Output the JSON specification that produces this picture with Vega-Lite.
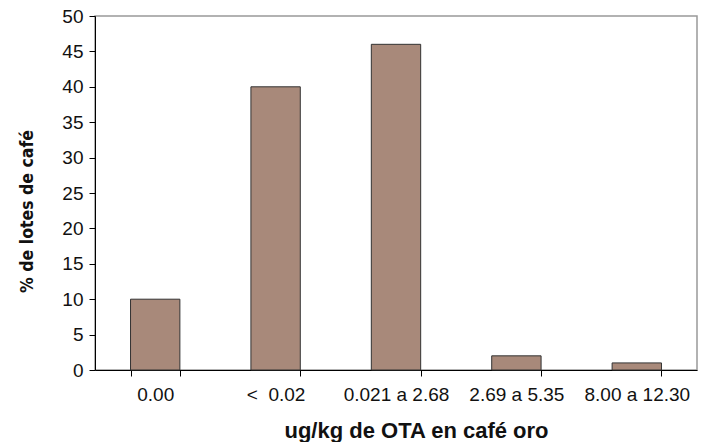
{
  "$schema": "https://vega.github.io/schema/vega-lite/v6.json",
  "width": 602,
  "height": 354,
  "autosize": {"type": "none"},
  "padding": {"left": 95, "top": 16, "right": 4, "bottom": 72},
  "background": "white",
  "config": {
    "view": {"stroke": "#999999", "strokeWidth": 1.5},
    "font": "Liberation Sans"
  },
  "data": {
    "values": [
      {"rango": "0.00", "pct": 10},
      {"rango": "< \u00a00.02", "pct": 40},
      {"rango": "0.021 a 2.68", "pct": 46},
      {"rango": "2.69 a 5.35", "pct": 2},
      {"rango": "8.00 a 12.30", "pct": 1}
    ]
  },
  "mark": {"type": "bar", "fill": "#a8897a", "stroke": "#333333", "strokeWidth": 1},
  "encoding": {
    "x": {
      "field": "rango",
      "type": "nominal",
      "sort": null,
      "scale": {"paddingInner": 0.59, "paddingOuter": 0.295},
      "axis": {
        "title": "ug/kg de OTA en café oro",
        "titleFont": "Liberation Sans",
        "titleFontSize": 22,
        "titleFontWeight": "bold",
        "titleColor": "#111111",
        "titleX": 321,
        "titleY": 67,
        "titleBaseline": "alphabetic",
        "labelAngle": 0,
        "labelFontSize": 19,
        "labelColor": "#111111",
        "labelDx": 5,
        "labelPadding": 9,
        "tickBand": "extent",
        "tickSize": 6,
        "tickColor": "#000000",
        "domainColor": "#000000",
        "labelFont": "Liberation Sans"
      }
    },
    "y": {
      "field": "pct",
      "type": "quantitative",
      "scale": {"domain": [0, 50]},
      "axis": {
        "title": "% de lotes de café",
        "titleFont": "DejaVu Sans Condensed, Liberation Sans",
        "titleFontSize": 17.5,
        "titleFontWeight": "bold",
        "titleColor": "#111111",
        "titleX": -63,
        "titleY": 195,
        "titleAngle": -90,
        "titleAlign": "center",
        "titleBaseline": "alphabetic",
        "values": [0, 5, 10, 15, 20, 25, 30, 35, 40, 45, 50],
        "grid": false,
        "labelFontSize": 19,
        "labelColor": "#111111",
        "labelPadding": 6,
        "tickSize": 6,
        "tickColor": "#000000",
        "domainColor": "#000000",
        "labelFont": "Liberation Sans"
      }
    }
  }
}
